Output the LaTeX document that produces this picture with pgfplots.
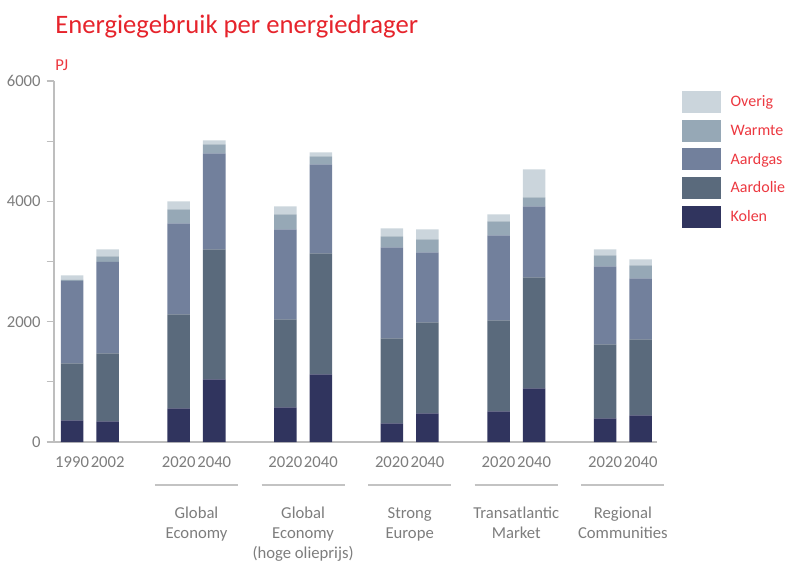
\documentclass[border=0pt]{standalone}
\usepackage{fontspec}
\setmainfont{Carlito}
\usepackage{pgfplots}
\usepackage{pgfplotstable}
\pgfplotsset{compat=1.18}
\definecolor{kolen}{RGB}{48,52,94}
\definecolor{aardolie}{RGB}{90,106,124}
\definecolor{aardgas}{RGB}{114,128,156}
\definecolor{warmte}{RGB}{150,168,182}
\definecolor{overig}{RGB}{203,213,220}
\definecolor{titlered}{RGB}{230,36,44}
\definecolor{legendred}{RGB}{236,56,64}
\definecolor{labelgray}{RGB}{125,125,125}
\definecolor{axisgray}{RGB}{190,190,190}
\definecolor{sepgray}{RGB}{195,195,195}
\tikzset{grouplabel/.style={anchor=north, align=center, text=labelgray, font=\fontsize{12.5}{15}\selectfont, inner sep=0pt}}
\pgfplotstableread{
x kolen aardolie aardgas warmte overig
0 361 947 1368 23 71
1 344 1130 1518 94 117
3 560 1562 1513 232 133
4 1042 2161 1595 150 66
6 577 1462 1496 249 133
7 1125 2011 1479 133 67
9 311 1412 1513 183 133
10 477 1512 1164 216 166
12 510 1513 1412 233 116
13 892 1845 1180 150 465
15 394 1230 1296 183 100
16 444 1263 1014 216 99
}\datatable
\begin{document}
\begin{tikzpicture}
\path[use as bounding box] (0,0) rectangle (591.75pt,421.5pt);
\node[anchor=base west, text=titlered, font=\fontsize{20}{24}\selectfont, inner sep=0pt] at (41.25pt,396pt) {Energiegebruik per energiedrager};
\node[anchor=base west, text=legendred, font=\fontsize{12.5}{15}\selectfont, inner sep=0pt] at (41.25pt,369pt) {PJ};
\begin{axis}[
 at={(40.5pt,90pt)}, anchor=south west,
 scale only axis, width=452.25pt, height=270.75pt,
 xmin=-0.51, xmax=16.46, ymin=0, ymax=6000,
 ybar stacked, bar width=16.9pt,
 axis lines=left, axis line style={-, draw=axisgray, line width=0.9pt},
 xtick={0,1,3,4,6,7,9,10,12,13,15,16},
 xticklabels={1990,2002,2020,2040,2020,2040,2020,2040,2020,2040,2020,2040},
 ytick={0,2000,4000,6000}, minor ytick={1000,3000,5000},
 tick align=outside, major tick length=5.5pt, minor tick length=5.5pt,
 ytick style={draw=axisgray, line width=0.9pt},
 minor y tick style={draw=axisgray, line width=0.9pt},
 xtick style={draw=none},
 ticklabel style={text=labelgray, font=\fontsize{12.5}{15}\selectfont},
 yticklabel style={xshift=-1pt},
 xticklabel style={yshift=-2pt},
 /pgf/number format/1000 sep={},
 /pgf/number format/assume math mode=true,
 clip=false,
 reverse legend,
 legend image code/.code={\fill[#1] (0pt,-8.25pt) rectangle (29.25pt,8.25pt);},
 legend style={draw=none, fill=none, at={(1.0415,0.972)}, anchor=north west,
   inner sep=0pt, row sep=4.9pt, column sep=7pt,
   font=\fontsize{12}{14}\selectfont, text=legendred, nodes={inner sep=0pt}},
 legend cell align=left,
]
\addplot[fill=kolen, draw=none] table[x=x,y=kolen]{\datatable};
\addplot[fill=aardolie, draw=none] table[x=x,y=aardolie]{\datatable};
\addplot[fill=aardgas, draw=none] table[x=x,y=aardgas]{\datatable};
\addplot[fill=warmte, draw=none] table[x=x,y=warmte]{\datatable};
\addplot[fill=overig, draw=none] table[x=x,y=overig]{\datatable};
\legend{Kolen,Aardolie,Aardgas,Warmte,Overig}
\draw[sepgray, line width=1pt] (axis cs:2.33,-715) -- (axis cs:4.67,-715);
\draw[sepgray, line width=1pt] (axis cs:5.33,-715) -- (axis cs:7.67,-715);
\draw[sepgray, line width=1pt] (axis cs:8.33,-715) -- (axis cs:10.67,-715);
\draw[sepgray, line width=1pt] (axis cs:11.33,-715) -- (axis cs:13.67,-715);
\draw[sepgray, line width=1pt] (axis cs:14.33,-715) -- (axis cs:16.67,-715);
\node[grouplabel] at (axis cs:3.5,-1080) {Global\\Economy};
\node[grouplabel] at (axis cs:6.5,-1080) {Global\\Economy\\(hoge olieprijs)};
\node[grouplabel] at (axis cs:9.5,-1080) {Strong\\Europe};
\node[grouplabel] at (axis cs:12.5,-1080) {Transatlantic\\Market};
\node[grouplabel] at (axis cs:15.5,-1080) {Regional\\Communities};
\end{axis}
\end{tikzpicture}
\end{document}
